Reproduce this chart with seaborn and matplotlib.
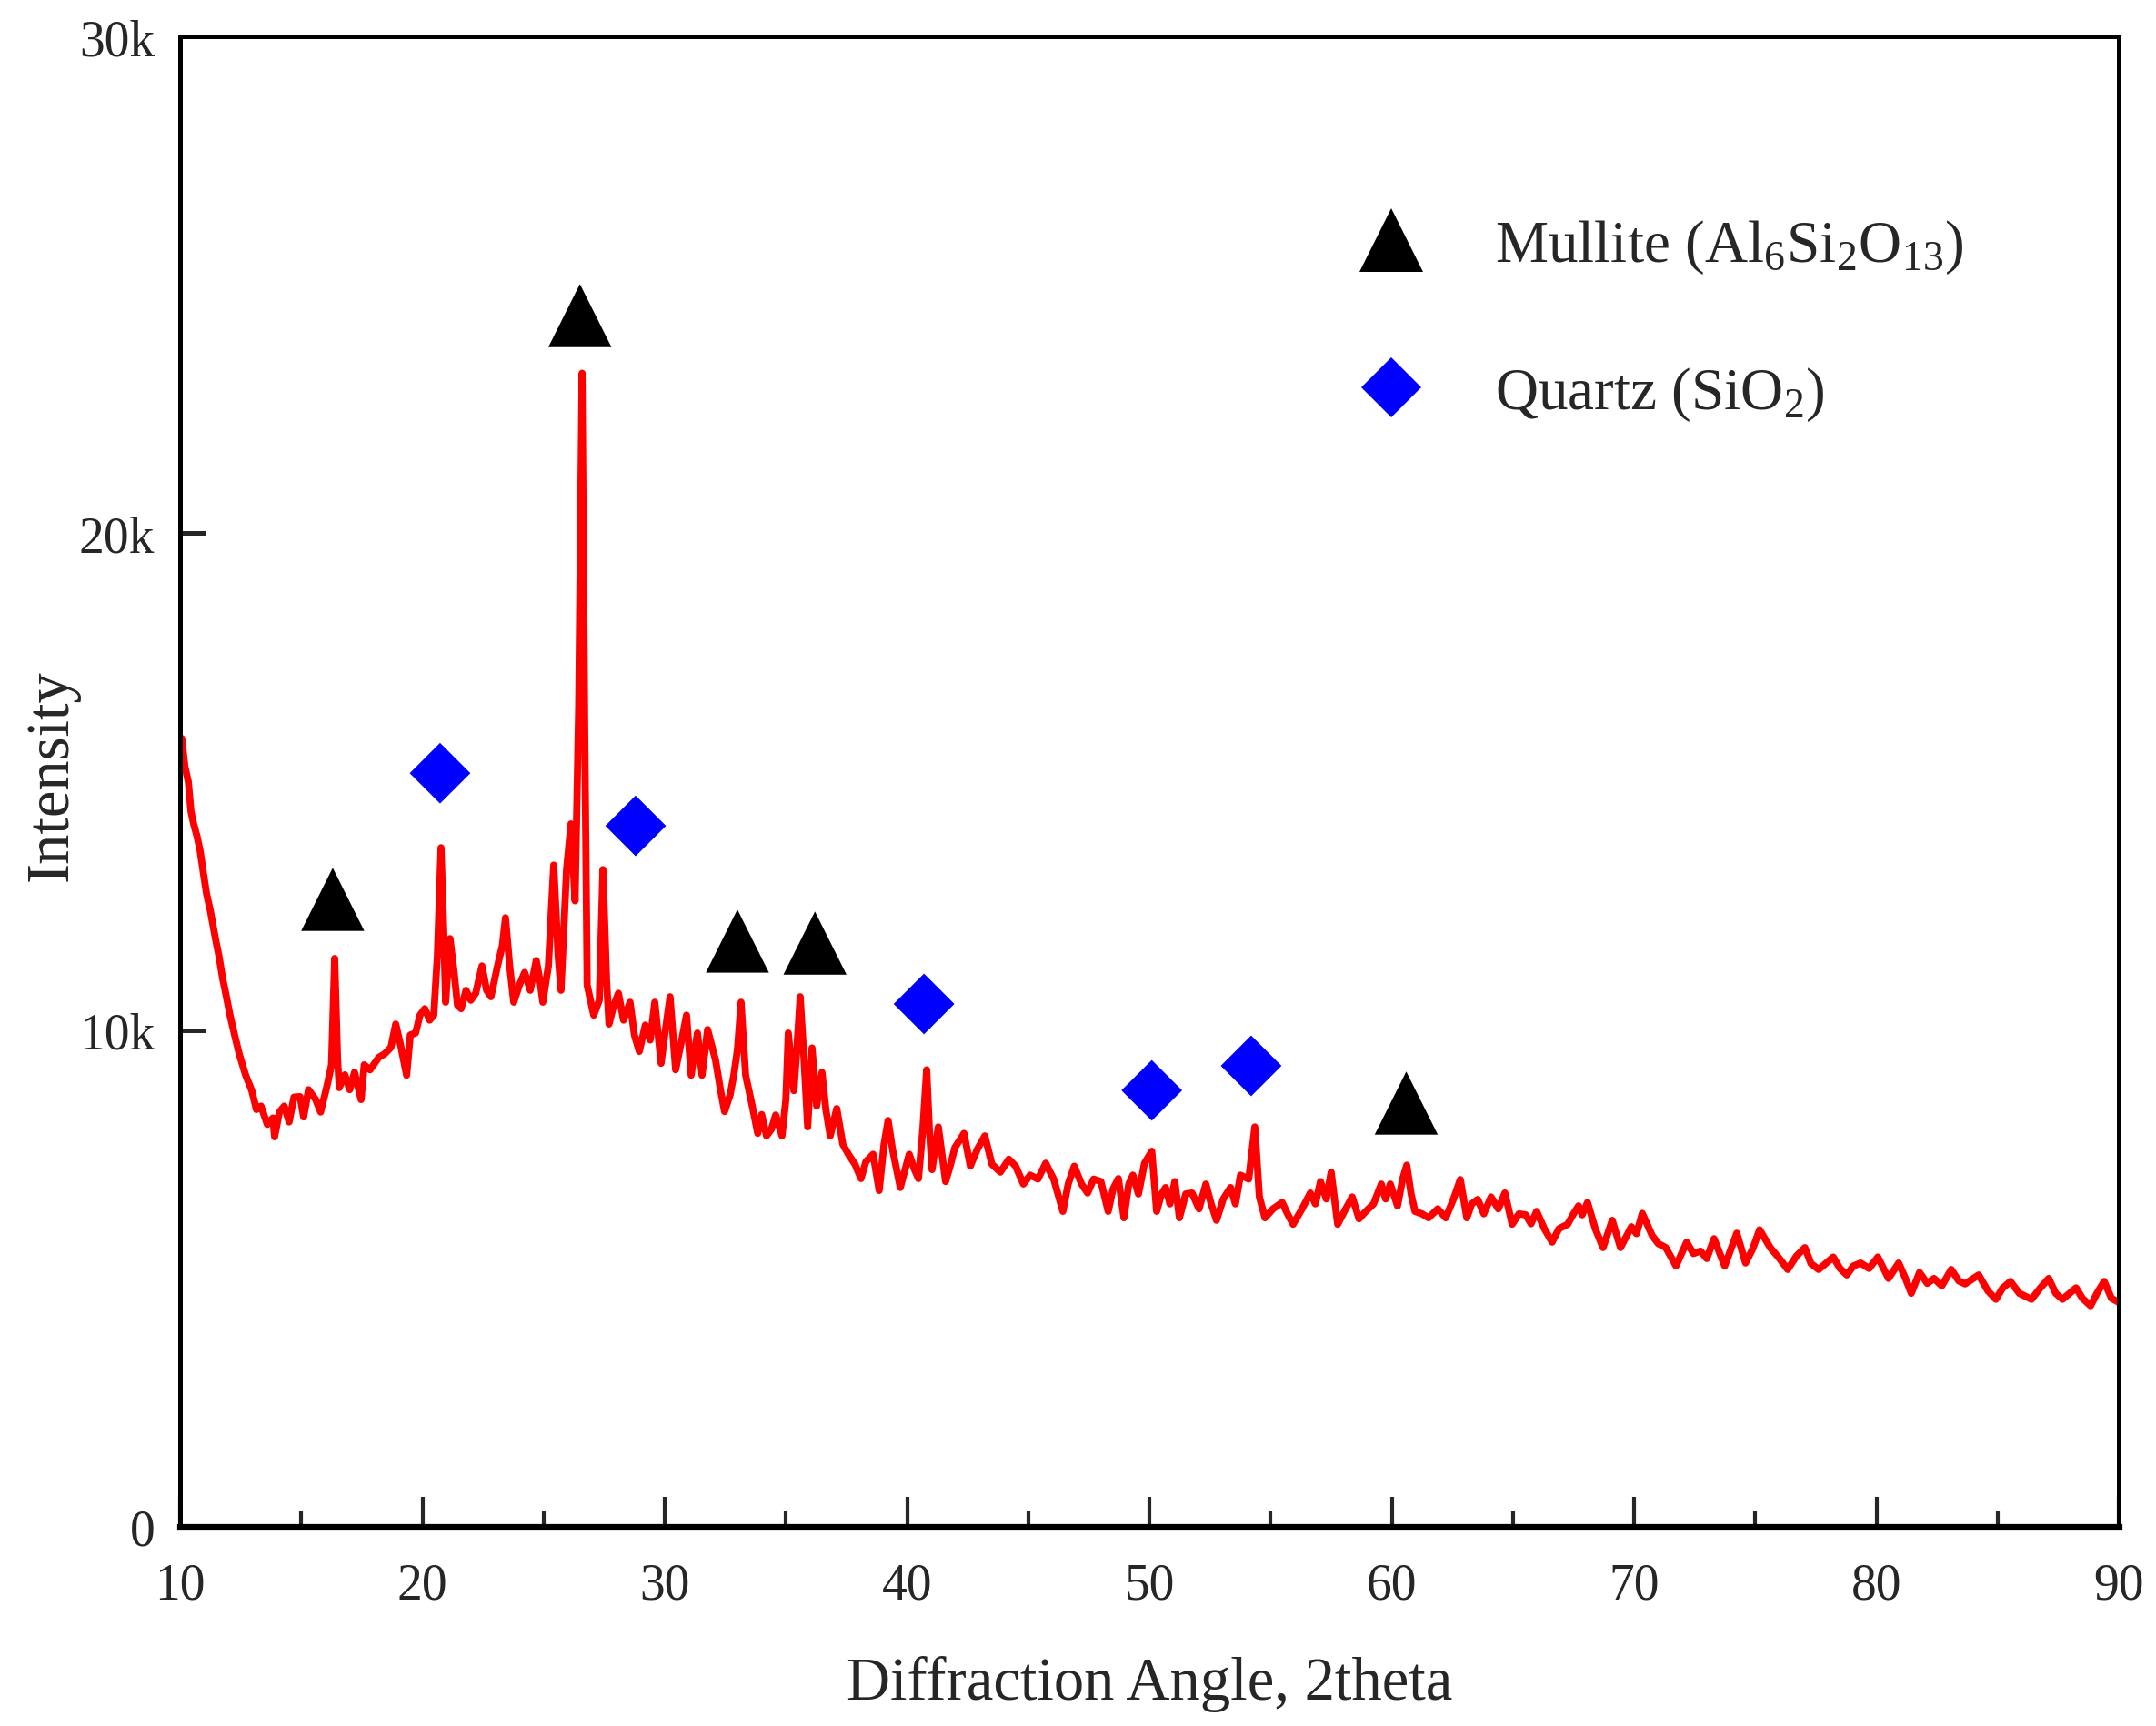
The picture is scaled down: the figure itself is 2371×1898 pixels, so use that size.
import numpy as np
import pandas as pd
import matplotlib
matplotlib.use('Agg')
import matplotlib.pyplot as plt
from matplotlib.lines import Line2D
from matplotlib.ticker import FixedLocator, MultipleLocator
import seaborn as sns

# XRD pattern
two_theta = [
    10.0, 10.07, 10.2, 10.34, 10.45, 10.56, 10.7, 10.83, 10.95, 11.09,
    11.25, 11.46, 11.6, 11.76, 11.9, 12.06, 12.25, 12.44, 12.7, 12.96,
    13.15, 13.34, 13.6, 13.83, 13.9, 14.1, 14.3, 14.5, 14.7, 14.95,
    15.1, 15.3, 15.6, 15.8, 16.08, 16.25, 16.38, 16.5, 16.57, 16.8,
    17.0, 17.2, 17.47, 17.6, 17.84, 18.2, 18.44, 18.7, 18.9, 19.1,
    19.35, 19.5, 19.72, 19.9, 20.1, 20.3, 20.47, 20.62, 20.77, 20.88,
    20.96, 21.14, 21.3, 21.45, 21.6, 21.8, 22.0, 22.2, 22.46, 22.65,
    22.83, 23.1, 23.3, 23.43, 23.6, 23.77, 24.0, 24.22, 24.45, 24.7,
    24.85, 24.97, 25.2, 25.42, 25.6, 25.72, 25.95, 26.13, 26.3, 26.45,
    26.59, 26.7, 26.8, 27.07, 27.3, 27.45, 27.6, 27.7, 27.9, 28.09,
    28.3, 28.57, 28.75, 28.95, 29.2, 29.4, 29.59, 29.85, 30.0, 30.22,
    30.45, 30.7, 30.9, 31.09, 31.35, 31.54, 31.77, 32.1, 32.3, 32.47,
    32.7, 32.85, 33.0, 33.15, 33.34, 33.6, 33.84, 34.0, 34.2, 34.4,
    34.58, 34.84, 35.0, 35.1, 35.33, 35.45, 35.59, 35.75, 35.9, 36.08,
    36.27, 36.49, 36.65, 36.83, 37.1, 37.35, 37.58, 37.85, 38.1, 38.3,
    38.6, 38.85, 39.05, 39.22, 39.4, 39.72, 40.09, 40.3, 40.47, 40.65,
    40.81, 40.92, 41.03, 41.29, 41.59, 41.8, 41.97, 42.35, 42.61, 42.9,
    43.21, 43.5, 43.85, 44.2, 44.48, 44.8, 45.08, 45.4, 45.72, 46.05,
    46.43, 46.65, 46.9, 47.2, 47.45, 47.7, 48.0, 48.3, 48.5, 48.72,
    48.95, 49.15, 49.32, 49.55, 49.8, 50.1, 50.3, 50.5, 50.67, 50.85,
    51.05, 51.24, 51.5, 51.76, 52.05, 52.33, 52.55, 52.77, 53.05, 53.35,
    53.55, 53.76, 54.1, 54.35, 54.54, 54.77, 55.1, 55.48, 55.7, 55.93,
    56.3, 56.64, 56.85, 57.06, 57.3, 57.5, 57.77, 58.1, 58.37, 58.65,
    58.93, 59.25, 59.57, 59.75, 59.94, 60.24, 60.45, 60.62, 60.8, 60.96,
    61.25, 61.52, 61.9, 62.23, 62.55, 62.83, 63.1, 63.3, 63.55, 63.8,
    64.1, 64.4, 64.67, 64.97, 65.25, 65.53, 65.75, 65.98, 66.3, 66.62,
    66.9, 67.26, 67.5, 67.71, 67.86, 68.08, 68.4, 68.72, 69.1, 69.44,
    69.89, 70.1, 70.34, 70.75, 71.0, 71.31, 71.73, 72.17, 72.45, 72.74,
    73.0, 73.3, 73.74, 74.24, 74.6, 74.9, 75.18, 75.62, 76.0, 76.34,
    76.7, 77.05, 77.3, 77.62, 78.22, 78.5, 78.78, 79.05, 79.35, 79.7,
    80.06, 80.5, 80.92, 81.2, 81.44, 81.78, 82.1, 82.38, 82.7, 83.09,
    83.4, 83.66, 84.22, 84.6, 84.93, 85.2, 85.53, 85.9, 86.4, 86.75,
    87.11, 87.4, 87.68, 88.24, 88.5, 88.84, 89.1, 89.4, 89.7, 90.0,
]
intensity = [
    15800, 15870, 15300, 15000, 14400, 14150, 13900, 13600, 13200, 12750,
    12400, 11840, 11500, 11030, 10700, 10300, 9900, 9520, 9100, 8780,
    8400, 8470, 8100, 8230, 7850, 8350, 8470, 8150, 8650, 8660,
    8250, 8800, 8600, 8350, 8910, 9300, 11440, 9400, 8840, 9100,
    8800, 9150, 8600, 9300, 9200, 9450, 9520, 9650, 10120, 9700,
    9090, 9900, 9940, 10300, 10430, 10200, 10300, 11500, 13670, 12000,
    10560, 11840, 11200, 10500, 10430, 10800, 10600, 10740, 11290, 10800,
    10670, 11290, 11700, 12260, 11300, 10560, 10900, 11160, 10800, 11400,
    11000, 10560, 11290, 13320, 11500, 10800, 13230, 14150, 12600, 16500,
    23220, 16000, 10900, 10300, 10600, 13230, 11000, 10120, 10500, 10740,
    10200, 10560, 9900, 9570, 10100, 9800, 10560, 9330, 9900, 10670,
    9200, 9800, 10300, 9090, 9940, 9090, 10010, 9390, 8800, 8360,
    8700, 9090, 9600, 10560, 9090, 8500, 7920, 8300, 7870, 8000,
    8290, 7870, 8600, 9940, 8780, 9600, 10670, 9400, 8050, 9640,
    8470, 9150, 8400, 7870, 8420, 7700, 7500, 7300, 7010, 7350,
    7500, 6770, 7700, 8180, 7600, 6830, 7500, 7200, 7010, 8000,
    9200, 8000, 7190, 8050, 6950, 7300, 7630, 7920, 7260, 7600,
    7870, 7300, 7140, 7400, 7260, 6900, 7080, 7000, 7320, 7000,
    6350, 6900, 7260, 6900, 6720, 7000, 6950, 6350, 6800, 7010,
    6220, 6900, 7080, 6700, 7320, 7560, 6350, 6700, 6830, 6500,
    6950, 6220, 6700, 6720, 6400, 6900, 6500, 6170, 6600, 6830,
    6500, 7080, 7000, 8050, 6640, 6220, 6400, 6530, 6300, 6090,
    6400, 6720, 6500, 6950, 6600, 7140, 6090, 6400, 6640, 6200,
    6350, 6500, 6900, 6600, 6900, 6460, 7000, 7280, 6700, 6350,
    6300, 6220, 6400, 6220, 6600, 6990, 6220, 6500, 6590, 6300,
    6640, 6400, 6720, 6090, 6300, 6280, 6100, 6350, 6000, 5730,
    6000, 6090, 6300, 6460, 6280, 6530, 6000, 5620, 6170, 5620,
    6040, 5900, 6310, 5860, 5700, 5620, 5250, 5730, 5500, 5550,
    5400, 5800, 5250, 5910, 5310, 5600, 5980, 5620, 5400, 5180,
    5450, 5620, 5300, 5180, 5430, 5200, 5070, 5250, 5310, 5200,
    5430, 5000, 5310, 5000, 4700, 5120, 4900, 5000, 4850, 5180,
    4950, 4890, 5070, 4750, 4580, 4800, 4940, 4700, 4580, 4800,
    5000, 4700, 4580, 4810, 4600, 4450, 4700, 4940, 4600, 4520,
]

# phase markers placed above the peaks
mullite_x = [16.3, 26.5, 33.0, 36.2, 60.6]
mullite_y = [12630, 24380, 11790, 11750, 8530]
quartz_x = [20.73, 28.8, 40.7, 50.1, 54.2]
quartz_y = [15170, 14110, 10525, 8786, 9280]

x_ticks = [10, 20, 30, 40, 50, 60, 70, 80, 90]
y_ticks = [0, 10000, 20000, 30000]
y_tick_labels = ['0', '10k', '20k', '30k']

sns.set_style('ticks')
plt.rcParams['font.family'] = ['Liberation Serif', 'DejaVu Serif']
plt.rcParams['mathtext.fontset'] = 'custom'
plt.rcParams['mathtext.rm'] = 'Liberation Serif'
plt.rcParams['mathtext.it'] = 'Liberation Serif:italic'

fig = plt.figure(figsize=(2371 / 200, 1899 / 200), dpi=200)
ax = fig.add_axes([198 / 2371, 1 - 1680 / 1899, 2132 / 2371, 1639 / 1899])

df = pd.DataFrame({'two_theta': two_theta, 'intensity': intensity})
sns.lineplot(data=df, x='two_theta', y='intensity', ax=ax, color='#ff0000',
             linewidth=2.8, estimator=None, sort=False, zorder=2)

sns.scatterplot(x=mullite_x, y=mullite_y, ax=ax, marker='^', s=25 ** 2,
                color='black', edgecolor='none', zorder=3)
sns.scatterplot(x=quartz_x, y=quartz_y, ax=ax, marker='D', s=17 ** 2,
                color='#0000ff', edgecolor='none', zorder=3)

ax.set_xlim(10, 90)
ax.set_ylim(0, 30000)
ax.xaxis.set_major_locator(FixedLocator(x_ticks))
ax.xaxis.set_minor_locator(MultipleLocator(5))
ax.yaxis.set_major_locator(FixedLocator(y_ticks))
ax.set_yticklabels(y_tick_labels)

ax.tick_params(axis='x', which='major', direction='in', length=12, width=1.5,
               labelsize=20, pad=14)
ax.tick_params(axis='x', which='minor', direction='in', length=6, width=1.5)
ax.tick_params(axis='y', which='major', direction='in', length=10, width=1.8,
               labelsize=20, pad=10)

for side in ['top', 'left', 'right']:
    ax.spines[side].set_linewidth(1.8)
ax.spines['bottom'].set_linewidth(2.6)
for s in ax.spines.values():
    s.set_color('black')

ax.set_xlabel('Diffraction Angle, 2theta', fontsize=24, labelpad=18)
ax.set_ylabel('Intensity', fontsize=24)
ax.yaxis.set_label_coords(-0.052, 0.505)

handles = [
    Line2D([], [], linestyle='none', marker='^', markersize=25,
           color='black', markeredgewidth=0),
    Line2D([], [], linestyle='none', marker='D', markersize=17,
           color='#0000ff', markeredgewidth=0),
]
labels = ['Mullite (Al$_{6}$Si$_{2}$O$_{13}$)', 'Quartz (SiO$_{2}$)']
fig.legend(handles, labels, loc='upper left',
           bbox_to_anchor=(1497 / 2371, 1 - 240 / 1899),
           frameon=False, fontsize=23.5, handlelength=1.0, handletextpad=1.25,
           labelspacing=1.5, borderpad=0, borderaxespad=0)

fig.savefig('out.png', dpi=200, facecolor='white')
